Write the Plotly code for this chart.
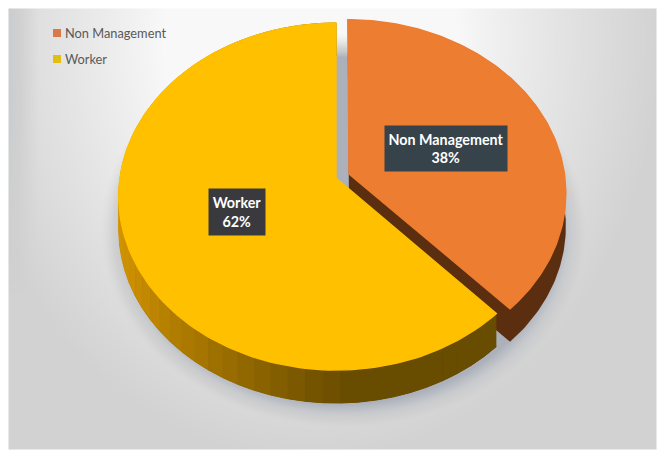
import numpy as np
import plotly.graph_objects as go

# Chart data
categories = ["Non Management", "Worker"]
shares = [38, 62]
top_colors = ["#ED7D31", "#FFC000"]
legend_swatches = ["#D9784A", "#E3BE12"]
label_fills = ["#37434B", "#3A3A3E"]

W, H = 657, 450
PANEL = (9, 9, 657, 450)

# Pie projection: plan-view unit disc seen in perspective
CX, CY = 336.0, 178.0
RX, RY, TILT = 216.0, 171.5, 0.107
DEPTH = 33.0
EXPLODE = 0.065


def project(u, v, drop=0.0):
    den = 1 - TILT * v
    return CX + RX * u / den, CY + RY * v / den + drop


def wedge(start, stop, offset=0.0):
    """Plan-view outline of a slice; angles are fractions clockwise from 12 o'clock."""
    t = 2 * np.pi * np.linspace(start, stop, 160)
    mid = 2 * np.pi * (start + stop) / 2
    ou, ov = offset * np.sin(mid), -offset * np.cos(mid)
    return ou, ov, ou + np.sin(t), ov - np.cos(t)


def blend(a, b, f):
    a, b = np.array(a), np.array(b)
    return "rgb(%d,%d,%d)" % tuple(a + (b - a) * f)


# Panel background with a soft drop shadow under the pie
yy, xx = np.mgrid[PANEL[1]:PANEL[3], PANEL[0]:PANEL[2]]
r = np.hypot((xx - 310) / 350.0, (yy - 40) / 420.0)
shade = 248 - 38 * np.clip((r - 0.42) / 0.58, 0, 1) ** 0.9
shade -= 18 * np.clip((30 - (xx - PANEL[0])) / 30.0, 0, 1) * np.clip((300 - yy) / 200.0, 0, 1)
sr = np.hypot((xx - 343) / 232.0, (yy - 230) / 188.0)
shadow = np.clip((1.05 - sr) / 0.13, 0, 1) ** 1.5
shade = shade * (1 - shadow) + 168 * shadow

fig = go.Figure()
fig.add_trace(go.Heatmap(
    x=xx[0], y=yy[:, 0], z=shade.round().astype(np.uint8), zmin=0, zmax=255,
    showscale=False, hoverinfo="skip",
    colorscale=[[0, "#000000"], [0.66, "#ABB0BA"], [0.77, "#C8CACD"], [0.82, "#D1D1D1"], [1, "#FFFFFF"]],
))

# Slices, back one first; side walls are shaded band by band
boundaries = np.cumsum([0] + shares) / sum(shares)
offsets = [EXPLODE, 0.0]
side_ramps = [((120, 60, 20), (92, 46, 16)), ((214, 150, 0), (104, 76, 0))]

for i in range(len(categories)):
    start, stop = boundaries[i], boundaries[i + 1]
    ou, ov, u, v = wedge(start, stop, offsets[i])
    x, y = project(np.r_[ou, u, ou], np.r_[ov, v, ov])
    xb, yb = project(np.r_[ou, u, ou], np.r_[ov, v, ov], DEPTH)

    # inner cut faces plus the outer rim, extruded downward
    fig.add_trace(go.Scatter(
        x=np.r_[x, xb[::-1]], y=np.r_[y, yb[::-1]], mode="lines", fill="toself",
        fillcolor="rgb(%d,%d,%d)" % side_ramps[i][1], line=dict(width=0),
        hoverinfo="skip", showlegend=False,
    ))
    rim_x, rim_y = project(u, v)
    rim_xb, rim_yb = project(u, v, DEPTH)
    if i == 1:
        bands = np.array_split(np.arange(len(u)), 60)
        for band in bands:
            idx = np.r_[band, min(band[-1] + 1, len(u) - 1)]
            # band colour follows horizontal position along the visible wall
            f = float(np.clip((rim_x[idx].mean() - 118) / 230, 0, 1)) ** 0.8
            colour = blend(*side_ramps[i], f)
            fig.add_trace(go.Scatter(
                x=np.r_[rim_x[idx], rim_xb[idx][::-1]], y=np.r_[rim_y[idx], rim_yb[idx][::-1]],
                mode="lines", fill="toself", fillcolor=colour,
                line=dict(width=1, color=colour), hoverinfo="skip", showlegend=False,
            ))
    fig.add_trace(go.Scatter(
        x=x, y=y, mode="lines", fill="toself", fillcolor=top_colors[i],
        line=dict(width=1.4, color=top_colors[i]), name=categories[i],
        hoverinfo="name", showlegend=False,
    ))

# Legend entries
LEGEND_X, LEGEND_Y, LEGEND_STEP = 57, 33, 26
for i, name in enumerate(categories):
    fig.add_trace(go.Scatter(
        x=[LEGEND_X], y=[LEGEND_Y + i * LEGEND_STEP], mode="markers",
        marker=dict(symbol="square", size=8, color=legend_swatches[i]),
        hoverinfo="skip", showlegend=False,
    ))
    fig.add_annotation(
        x=LEGEND_X + 6, y=LEGEND_Y + i * LEGEND_STEP, text=name, showarrow=False,
        xanchor="left", yanchor="middle", font=dict(family="Lato", size=12.8, color="#595959"),
    )

# Data labels
label_pos = [(445.5, 148.5, 120, 43), (236.5, 212, 54, 44)]
for i, name in enumerate(categories):
    lx, ly, lw, lh = label_pos[i]
    fig.add_annotation(
        x=lx, y=ly, text=f"<b>{name}<br>{shares[i]}%</b>", showarrow=False,
        width=lw, height=lh, align="center", valign="middle", bgcolor=label_fills[i],
        font=dict(family="Lato", size=14.3, color="#FFFFFF"),
    )

fig.update_layout(
    width=W, height=H, margin=dict(l=0, r=0, t=0, b=0), autosize=False,
    paper_bgcolor="#FFFFFF", plot_bgcolor="#FFFFFF", showlegend=False,
    xaxis=dict(range=[0, W], visible=False, fixedrange=True),
    yaxis=dict(range=[H, 0], visible=False, fixedrange=True),
)
fig.write_html("out.html", config={"displayModeBar": False})
